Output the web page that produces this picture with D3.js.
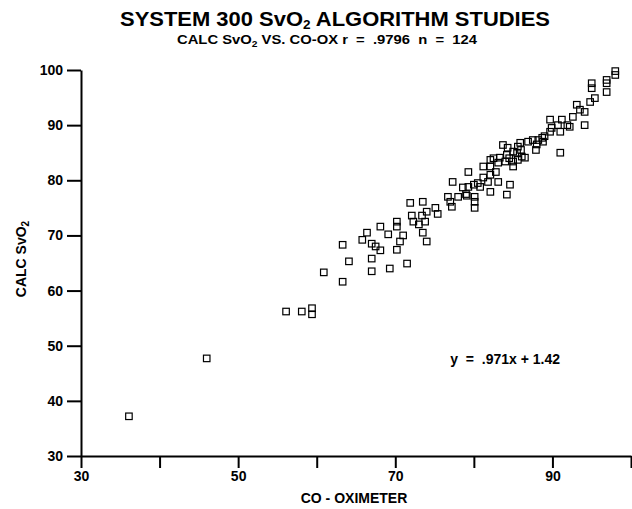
<!DOCTYPE html>
<html>
<head>
<meta charset="utf-8">
<script src="https://cdn.jsdelivr.net/npm/d3@7"></script>
<style>
  body { margin: 0; background: #fff; }
  svg text { font-family: "Liberation Sans", Arial, sans-serif; font-weight: bold; fill: #000; }
</style>
</head>
<body>
<div id="chart"></div>
<script>
// CO-oximeter reading vs calculated SvO2
var coOx = [
  36.1, 46.0, 56.1, 58.1, 59.4, 59.4, 60.9, 63.3, 64.1, 63.3,
  65.8, 66.4, 67.0, 67.0, 67.0, 68.1, 68.1, 69.1, 69.3, 70.2,
  70.6, 71.0, 70.2, 70.2, 71.5, 72.3, 73.8, 73.5, 74.0, 71.9,
  73.5, 72.1, 73.4, 74.0, 75.1, 75.4,
  76.7, 77.0, 77.2, 78.0, 79.1, 80.1, 80.1, 80.1, 77.3, 78.6,
  79.3, 80.0, 79.3, 80.8, 81.2, 81.2, 82.1, 82.1, 83.1, 82.8,
  82.1, 81.8, 83.1, 82.1, 84.6, 84.2,
  83.7, 84.3, 84.2, 85.0, 85.6, 85.9, 83.3, 84.0, 85.0, 85.6,
  86.1, 86.5, 85.0,
  86.9, 87.5, 88.2, 88.7, 88.8, 87.9, 89.7, 89.9, 89.7, 90.7,
  91.0, 91.2, 91.9, 92.2, 92.6, 94.1, 91.0, 93.1, 93.5, 94.1,
  94.8, 95.4, 95.0, 95.0, 96.9, 96.9, 96.9, 98.0, 98.0,
  82.5, 84.5, 86.0, 80.5, 79.0, 88.0, 89.0, 85.5, 73.0, 67.5
];
var calcSvO2 = [
  37.2, 47.7, 56.2, 56.2, 56.8, 55.7, 63.3, 68.3, 65.3, 61.6,
  69.2, 70.5, 68.5, 65.8, 63.5, 71.6, 67.3, 70.2, 64.0, 67.4,
  68.9, 70.0, 72.5, 71.6, 64.9, 72.5, 72.5, 70.5, 68.9, 75.9,
  76.1, 73.6, 73.6, 74.3, 75.0, 73.9,
  77.0, 76.1, 75.2, 77.0, 77.2, 77.0, 76.1, 75.0, 79.7, 78.7,
  78.8, 79.2, 81.5, 78.8, 80.5, 82.5, 83.7, 82.5, 83.2, 81.5,
  81.0, 79.7, 79.7, 77.9, 79.2, 77.4,
  86.4, 85.9, 84.6, 85.2, 86.1, 86.8, 84.1, 83.4, 83.4, 83.7,
  84.3, 84.1, 82.5,
  87.0, 87.3, 87.3, 87.7, 87.0, 85.5, 91.0, 89.5, 88.8, 90.0,
  88.8, 91.0, 90.0, 89.7, 91.5, 90.0, 85.0, 93.7, 92.8, 92.4,
  94.2, 94.9, 97.6, 96.7, 98.2, 97.6, 96.0, 99.8, 99.1,
  84.0, 84.0, 85.5, 79.5, 77.5, 86.5, 88.0, 85.0, 72.0, 68.0
];
var xTicks = [30, 40, 50, 60, 70, 80, 90, 100];
var xTickLabels = [30, 50, 70, 90];
var yTicks = [30, 40, 50, 60, 70, 80, 90, 100];

var width = 632, height = 509;
var margin = {left: 81, right: 1, top: 70, bottom: 53};

var svg = d3.select('#chart').append('svg')
    .attr('width', width)
    .attr('height', height);

var x = d3.scaleLinear().domain([30, 100]).range([margin.left, width - margin.right]);
var y = d3.scaleLinear().domain([30, 100]).range([height - margin.bottom, margin.top]);

// title block
var title = svg.append('text')
    .attr('x', 335).attr('y', 26)
    .attr('text-anchor', 'middle')
    .attr('font-size', '21px')
    .attr('textLength', 430)
    .attr('lengthAdjust', 'spacingAndGlyphs');
title.append('tspan').text('SYSTEM 300 SvO');
title.append('tspan').attr('font-size', '13px').attr('dy', 3).text('2');
title.append('tspan').attr('dy', -3).text(' ALGORITHM STUDIES');

var sub = svg.append('text')
    .attr('x', 327).attr('y', 44)
    .attr('text-anchor', 'middle')
    .attr('font-size', '13px')
    .attr('xml:space', 'preserve')
    .attr('textLength', 300)
    .attr('lengthAdjust', 'spacingAndGlyphs');
sub.append('tspan').text('CALC SvO');
sub.append('tspan').attr('font-size', '9px').attr('dy', 3).text('2');
sub.append('tspan').attr('dy', -3).text(' VS. CO-OX r  =  .9796  n  =  124');

// axes
var xAxis = d3.axisBottom(x)
    .tickValues(xTicks)
    .tickSize(12)
    .tickSizeOuter(0)
    .tickPadding(3)
    .tickFormat(function(d){ return xTickLabels.indexOf(d) >= 0 ? d : ''; });

var yAxis = d3.axisLeft(y)
    .tickValues(yTicks)
    .tickSize(14)
    .tickSizeOuter(0)
    .tickPadding(4);

var gx = svg.append('g')
    .attr('transform', 'translate(0,' + y(30) + ')')
    .call(xAxis);
var gy = svg.append('g')
    .attr('transform', 'translate(' + x(30) + ',0)')
    .call(yAxis);

[gx, gy].forEach(function(g){
    g.selectAll('path, line').attr('stroke', '#000').attr('stroke-width', 2);
    g.selectAll('text').attr('font-size', '14px').attr('fill', '#000')
        .style('font-family', '"Liberation Sans", Arial, sans-serif')
        .style('font-weight', 'bold');
});

// axis titles
svg.append('text')
    .attr('x', 354).attr('y', 503)
    .attr('text-anchor', 'middle')
    .attr('font-size', '14px')
    .text('CO - OXIMETER');

var yl = svg.append('text')
    .attr('transform', 'translate(26,259) rotate(-90)')
    .attr('text-anchor', 'middle')
    .attr('font-size', '14px');
yl.append('tspan').text('CALC SvO');
yl.append('tspan').attr('font-size', '10px').attr('dy', 3).text('2');

// regression note
svg.append('text')
    .attr('x', 560).attr('y', 364)
    .attr('text-anchor', 'end')
    .attr('font-size', '14px')
    .attr('xml:space', 'preserve')
    .text('y  =  .971x + 1.42');

// points
var s = 6.5;
svg.append('g').selectAll('rect')
    .data(coOx.map(function(v, i){ return [v, calcSvO2[i]]; }))
    .enter().append('rect')
    .attr('x', function(d){ return x(d[0]) - s / 2; })
    .attr('y', function(d){ return y(d[1]) - s / 2; })
    .attr('width', s)
    .attr('height', s)
    .attr('fill', 'none')
    .attr('stroke', '#000')
    .attr('stroke-width', 1.2);
</script>
</body>
</html>
